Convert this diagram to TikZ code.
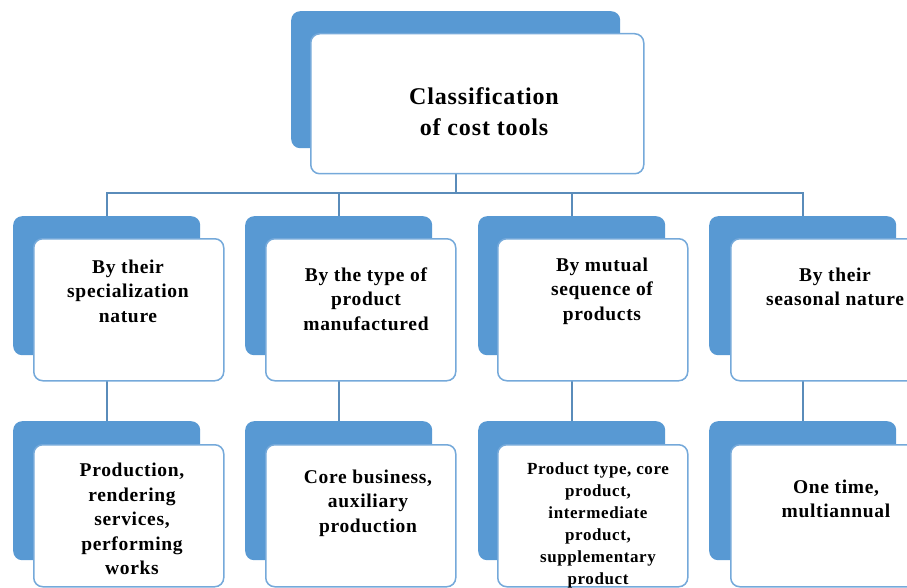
\documentclass[tikz,border=0pt]{standalone}
\usepackage{fontspec}
\setmainfont{Liberation Serif}[LetterSpace=3.5]
\usetikzlibrary{backgrounds}
\definecolor{cardblue}{HTML}{5899D3}
\definecolor{edgeblue}{HTML}{75A9DA}
\definecolor{wireblue}{HTML}{5A8CBA}

\begin{document}
\begin{tikzpicture}[x=1pt,y=-1pt,
    backcard/.style={fill=cardblue, rounded corners=9pt, minimum width=187pt, minimum height=139pt, inner sep=0pt, anchor=north west},
    frontcard/.style={fill=white, draw=edgeblue, line width=1.5pt, rounded corners=9pt, minimum width=190pt, minimum height=142pt, inner sep=0pt, anchor=north west},
    cardtext/.style={align=center, font=\bfseries\fontsize{19.5}{24.5}\selectfont},
    wire/.style={draw=wireblue, line width=1.6pt}]

    \useasboundingbox (0,0) rectangle (907,588);

    \node[backcard, minimum width=329pt, minimum height=137pt] (topback) at (291,11) {};
    \node[frontcard, minimum width=333pt, minimum height=140pt] (topfront) at (310,33) {};
    \node[cardtext, font=\bfseries\fontsize{24}{31}\selectfont] (toptext) at (484,112) {Classification\\of cost tools};

    \node[backcard] (specback) at (13,216) {};
    \node[frontcard] (specfront) at (33,238) {};
    \node[cardtext] (spectext) at (128,291) {By their\\specialization\\nature};

    \node[backcard] (typeback) at (245,216) {};
    \node[frontcard] (typefront) at (265,238) {};
    \node[cardtext] (typetext) at (366,299) {By the type of\\product\\manufactured};

    \node[backcard] (seqback) at (478,216) {};
    \node[frontcard] (seqfront) at (497,238) {};
    \node[cardtext] (seqtext) at (602,291) {By mutual\\sequence of\\products};

    \node[backcard] (seasonback) at (709,216) {};
    \node[frontcard] (seasonfront) at (730,238) {};
    \node[cardtext] (seasontext) at (835,287) {By their\\seasonal nature};

    \node[backcard] (worksback) at (13,421) {};
    \node[frontcard] (worksfront) at (33,444) {};
    \node[cardtext] (workstext) at (132,519) {Production,\\rendering\\services,\\performing\\works};

    \node[backcard] (coreback) at (245,421) {};
    \node[frontcard] (corefront) at (265,444) {};
    \node[cardtext] (coretext) at (368,503) {Core business,\\auxiliary\\production};

    \node[backcard] (kindback) at (478,421) {};
    \node[frontcard] (kindfront) at (497,444) {};
    \node[cardtext, font=\bfseries\fontsize{17}{22}\selectfont] (kindtext) at (598,525) {Product type, core\\product,\\intermediate\\product,\\supplementary\\product};

    \node[backcard] (termback) at (709,421) {};
    \node[frontcard] (termfront) at (730,444) {};
    \node[cardtext] (termtext) at (836,499) {One time,\\multiannual};

    \begin{scope}[on background layer]
        \coordinate (bus) at (0,193);
        \draw[wire] (topback.south) -- (topback.south |- bus);
        \draw[wire] (specback.north) -- (specback.north |- bus) -- (seasonback.north |- bus) -- (seasonback.north);
        \draw[wire] (typeback.north) -- (typeback.north |- bus);
        \draw[wire] (seqback.north) -- (seqback.north |- bus);
        \draw[wire] (specback.south) -- (worksback.north);
        \draw[wire] (typeback.south) -- (coreback.north);
        \draw[wire] (seqback.south) -- (kindback.north);
        \draw[wire] (seasonback.south) -- (termback.north);
    \end{scope}
\end{tikzpicture}
\end{document}
